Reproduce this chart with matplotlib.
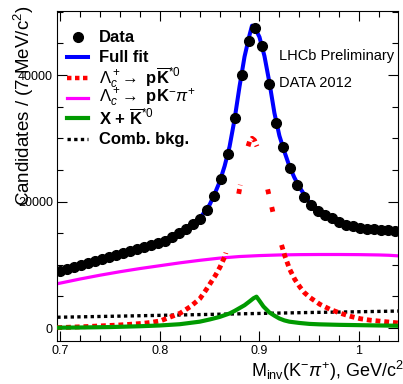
import numpy as np
import matplotlib
matplotlib.use("Agg")
import matplotlib.pyplot as plt
from matplotlib.ticker import MultipleLocator, FuncFormatter

plt.rcParams['font.family'] = ['Liberation Sans', 'DejaVu Sans']
plt.rcParams['mathtext.fontset'] = 'custom'
plt.rcParams['mathtext.rm'] = 'Liberation Sans'
plt.rcParams['mathtext.it'] = 'Liberation Sans:italic'
plt.rcParams['mathtext.bf'] = 'Liberation Sans:bold'

# data, 7 MeV bins starting at 0.700 GeV
bin_width = 0.007
data_counts = [9000, 9280, 9640, 9930, 10280, 10580, 10900, 11230, 11520, 11860,
               12150, 12480, 12800, 13120, 13390, 13800, 14340, 14970, 15600, 16400,
               17190, 18660, 20870, 23560, 27510, 33150, 40000, 45370, 47380, 44580,
               38580, 32460, 28570, 25250, 22610, 20760, 19450, 18550, 17870, 17340,
               16810, 16360, 16130, 15890, 15730, 15650, 15540, 15450, 15340]
data_mass = 0.700 + bin_width * np.arange(len(data_counts))

# full fit
fit_mass = [0.697, 0.71, 0.72, 0.73, 0.74, 0.75, 0.76, 0.77, 0.78, 0.79, 0.80, 0.81,
            0.82, 0.83, 0.84, 0.85, 0.855, 0.86, 0.865, 0.87, 0.875, 0.88, 0.885,
            0.89, 0.8925, 0.895, 0.90, 0.905, 0.91, 0.915, 0.92, 0.925, 0.93, 0.935,
            0.94, 0.95, 0.96, 0.97, 0.98, 0.99, 1.00, 1.01, 1.02, 1.03, 1.04]
fit_total = [8900, 9450, 9900, 10350, 10800, 11250, 11700, 12150, 12600, 13050, 13500,
             14150, 14900, 15950, 17300, 19500, 21200, 23100, 25600, 28700, 33000,
             38200, 42900, 46300, 47800, 47600, 46000, 43000, 38800, 34000, 30400,
             27900, 25600, 23800, 22300, 19900, 18450, 17500, 16800, 16350, 16000,
             15750, 15550, 15400, 15300]

# Lambda_c -> p K*0bar
kstar_mass = [0.697, 0.71, 0.72, 0.73, 0.74, 0.75, 0.76, 0.77, 0.78, 0.79, 0.80, 0.81,
              0.82, 0.83, 0.84, 0.845, 0.85, 0.855, 0.86, 0.865, 0.87, 0.875, 0.88,
              0.885, 0.8875, 0.89, 0.8925, 0.895, 0.8975, 0.90, 0.905, 0.91, 0.915,
              0.92, 0.925, 0.93, 0.935, 0.94, 0.945, 0.95, 0.96, 0.97, 0.98, 0.99,
              1.00, 1.01, 1.02, 1.03, 1.04]
kstar_yield = [50, 120, 180, 250, 320, 400, 480, 580, 700, 850, 1100, 1700, 2300, 3300,
               4600, 5700, 6900, 8100, 9500, 11200, 13800, 17400, 22000, 26300, 28200,
               29500, 30000, 29700, 28700, 27300, 24100, 20700, 17300, 14300, 11600,
               9400, 7800, 6600, 5600, 4900, 3800, 3000, 2400, 1900, 1500, 1250, 1100,
               950, 780]
# stretches of the dotted curve that show up on the steep flanks
kstar_shown = [(0.69, 0.8665), (0.879, 0.8808), (0.8885, 0.8975), (0.908, 0.9095),
               (0.9123, 0.9137), (0.922, 1.05)]

# Lambda_c -> p K- pi+ (non resonant)
nr_mass = [0.697, 0.72, 0.74, 0.76, 0.78, 0.80, 0.82, 0.84, 0.86, 0.88, 0.90, 0.92,
           0.94, 0.96, 0.98, 1.00, 1.02, 1.03, 1.04]
nr_yield = [7000, 7750, 8350, 8900, 9400, 9850, 10300, 10700, 11050, 11300, 11450,
            11550, 11600, 11620, 11620, 11600, 11550, 11500, 11400]

# X + K*0bar
x_mass = [0.697, 0.72, 0.75, 0.78, 0.80, 0.82, 0.84, 0.85, 0.86, 0.87, 0.875, 0.88,
          0.885, 0.89, 0.894, 0.897, 0.90, 0.904, 0.91, 0.915, 0.92, 0.925, 0.93,
          0.94, 0.95, 0.96, 0.98, 1.00, 1.02, 1.04]
x_yield = [50, 80, 150, 280, 400, 600, 1000, 1350, 1750, 2300, 2700, 3150, 3600, 4200,
           4700, 4950, 4300, 3400, 2450, 1950, 1500, 1200, 1000, 800, 650, 580, 500,
           450, 400, 350]

# combinatorial background
comb_mass = [0.697, 0.75, 0.80, 0.85, 0.90, 0.95, 1.00, 1.04]
comb_yield = [1700, 1850, 2000, 2150, 2300, 2450, 2570, 2680]

BLUE = '#0000ff'
RED = '#ff0000'
MAGENTA = '#ff00ff'
GREEN = '#009a00'

fig = plt.figure(figsize=(4.03, 3.84), dpi=100)
ax = fig.add_axes([57 / 403, 1 - 341 / 384, 341 / 403, 330 / 384])

ax.plot(nr_mass, nr_yield, color=MAGENTA, lw=2.3, zorder=2)
ax.plot(comb_mass, comb_yield, color='black', lw=2.4, ls=(0, (1, 1)),
        dash_capstyle='butt', zorder=3)

# finer sampling so the short stretches on the flanks still get a dot
km = np.array(kstar_mass)
ky = np.array(kstar_yield, dtype=float)
fine_m = np.linspace(km[0], km[-1], 1500)
fine_y = np.interp(fine_m, km, ky)
fine_keep = np.zeros(len(fine_m), dtype=bool)
for lo, hi in kstar_shown:
    fine_keep |= (fine_m >= lo) & (fine_m <= hi)
fine_y[~fine_keep] = np.nan
ax.plot(fine_m, fine_y, color=RED, lw=3.5, ls=(0, (1, 0.8)),
        dash_capstyle='butt', zorder=4)

ax.plot(x_mass, x_yield, color=GREEN, lw=3.0, zorder=5)
ax.plot(fit_mass, fit_total, color=BLUE, lw=2.9, zorder=6)
ax.plot(data_mass, data_counts, 'o', color='black', ms=7, zorder=7)

ax.set_xlim(0.6967, 1.0391)
ax.set_ylim(-2055, 50120)

ax.xaxis.set_major_locator(MultipleLocator(0.1))
ax.xaxis.set_minor_locator(MultipleLocator(0.02))
ax.yaxis.set_major_locator(MultipleLocator(20000))
ax.yaxis.set_minor_locator(MultipleLocator(5000))
ax.xaxis.set_major_formatter(FuncFormatter(lambda v, p: '%g' % round(v, 3)))
ax.yaxis.set_major_formatter(FuncFormatter(lambda v, p: '%d' % v))
ax.tick_params(which='both', direction='in', top=True, right=True, width=0.8,
               labelsize=9, pad=3)
ax.tick_params(which='major', length=7.5)
ax.tick_params(which='minor', length=4)
for s in ax.spines.values():
    s.set_linewidth(0.8)

# legend, drawn by hand in axes coordinates
def row_y(py):
    return (341 - py) / 330

entries = [
    ('Data', dict(marker='o', ls='none', color='black', ms=7)),
    ('Full fit', dict(color=BLUE, lw=2.9)),
    (r'$\Lambda_c^+\!\rightarrow$ p$\overline{\mathbf{K}}^{*0}$',
     dict(color=RED, lw=3.2, ls=(0, (1, 0.8)), dash_capstyle='butt')),
    (r'$\Lambda_c^+\!\rightarrow$ pK$^{-}\pi^{+}$', dict(color=MAGENTA, lw=2.3)),
    (r'X + $\overline{\mathbf{K}}^{*0}$', dict(color=GREEN, lw=3.0)),
    ('Comb. bkg.', dict(color='black', lw=2.4, ls=(0, (1, 1)), dash_capstyle='butt')),
]
rows_px = [37, 57, 78, 98, 118, 139]
for (label, style), py in zip(entries, rows_px):
    yy = row_y(py)
    if style.get('marker'):
        ax.plot([0.0616], [yy], transform=ax.transAxes, clip_on=False, **style)
    else:
        ax.plot([0.0293, 0.0909], [yy, yy], transform=ax.transAxes, **style)
    ax.text(0.123, yy, label, transform=ax.transAxes, fontsize=12,
            fontweight='bold', va='center', ha='left')

ax.text(0.651, row_y(56), 'LHCb Preliminary', transform=ax.transAxes,
        fontsize=10.5, va='center', ha='left')
ax.text(0.651, row_y(83), 'DATA 2012', transform=ax.transAxes,
        fontsize=10.5, va='center', ha='left')

fig.text(1.004, 0.018, r'M$_{\rm inv}$(K$^{-}\pi^{+}$), GeV/c$^{2}$',
         fontsize=13, ha='right', va='baseline')
fig.text(0.06, 0.987, r'Candidates / (7 MeV/c$^{2}$)', fontsize=13.5,
         rotation=90, ha='center', va='top')

fig.savefig('out.png', dpi=100)
